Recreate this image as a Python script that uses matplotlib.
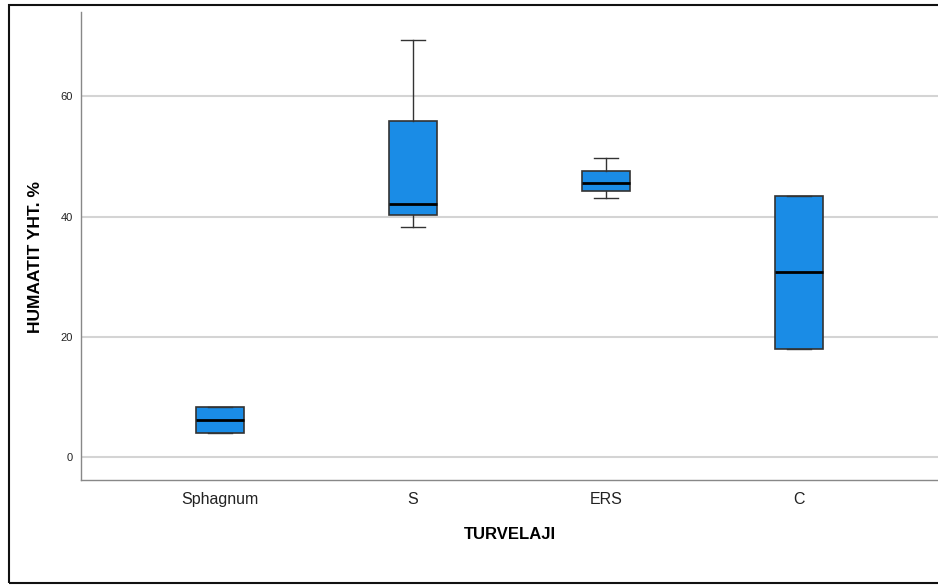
import matplotlib.pyplot as plt
from matplotlib.patches import Rectangle

plt.rcParams['font.family'] = ['Liberation Sans', 'DejaVu Sans']

# box statistics (HUMAATIT YHT. %)
turvelaji = ['Sphagnum', 'S', 'ERS', 'C']
whislo = [4.0, 38.3, 43.0, 18.0]
q1 = [4.0, 40.2, 44.3, 18.0]
med = [6.1, 42.0, 45.6, 30.7]
q3 = [8.3, 55.8, 47.6, 43.4]
whishi = [8.3, 69.4, 49.7, 43.4]

stats = []
for i, name in enumerate(turvelaji):
    stats.append({'label': name, 'whislo': whislo[i], 'q1': q1[i], 'med': med[i],
                  'q3': q3[i], 'whishi': whishi[i], 'fliers': []})

fig = plt.figure(figsize=(9.38, 5.86), dpi=100)
ax = fig.add_axes([0.0864, 0.1809, 0.9136, 0.7986])

ax.bxp(stats, positions=range(len(turvelaji)), widths=0.25, patch_artist=True,
       boxprops=dict(facecolor='#1a8ce6', edgecolor='#333333', linewidth=1.2),
       medianprops=dict(color='black', linewidth=2),
       whiskerprops=dict(color='#333333', linewidth=1),
       capprops=dict(color='#333333', linewidth=1), zorder=3)

ax.set_xlim(-0.72, 3.72)
ax.set_ylim(-3.8, 74)
ax.set_yticks([0, 20, 40, 60])
ax.yaxis.grid(True, color='#d4d4d4', linewidth=1.5, zorder=0)
ax.set_axisbelow(True)
ax.tick_params(axis='y', length=0, labelsize=8, pad=6, colors='#222222')
ax.tick_params(axis='x', length=0, labelsize=11.5, pad=9, colors='#222222')
for s in ['top', 'right']:
    ax.spines[s].set_visible(False)
for s in ['left', 'bottom']:
    ax.spines[s].set_color('#888888')
    ax.spines[s].set_linewidth(1)

ax.set_xlabel('TURVELAJI', fontsize=12, fontweight='bold', labelpad=14)
ax.set_ylabel('HUMAATIT YHT. %', fontsize=12.5, fontweight='bold')
ax.yaxis.set_label_coords(-0.0443, 0.4765)

fig.patches.append(Rectangle((0.0096, 0.005), 1.1, 0.9865, transform=fig.transFigure,
                             fill=False, edgecolor='#111111', linewidth=1.5))

fig.savefig('out.png', dpi=100)
